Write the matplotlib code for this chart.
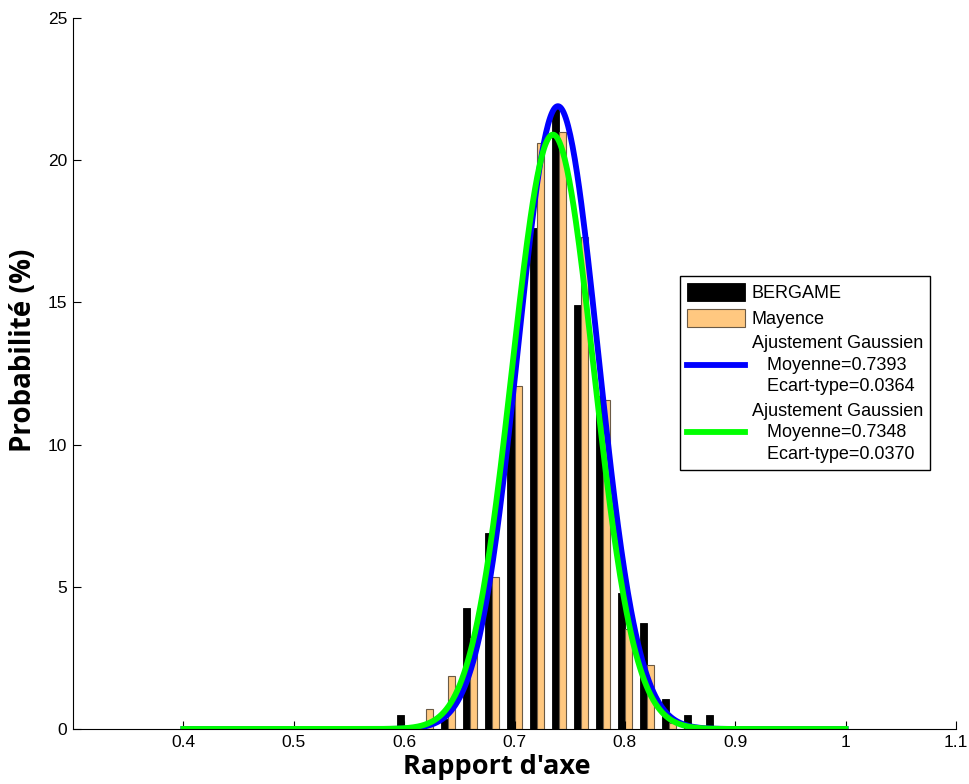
import numpy as np
import matplotlib
matplotlib.use("Agg")
import matplotlib.pyplot as plt
from matplotlib.ticker import FuncFormatter

# Bin centres and probabilities (%)
bins = [0.60, 0.62, 0.64, 0.66, 0.68, 0.70, 0.72, 0.74, 0.76, 0.78, 0.80, 0.82, 0.84, 0.86, 0.88]
bergame = [0.5, 0.0, 0.35, 4.25, 6.9, 12.0, 17.6, 21.8, 14.9, 11.7, 4.78, 3.73, 1.05, 0.5, 0.5]
mayence = [0.0, 0.7, 1.86, 3.2, 5.35, 12.06, 20.6, 21.0, 17.3, 11.57, 3.5, 2.25, 0.2, 0.0, 0.0]

# Gaussian fits (mean, std, peak amplitude)
fit_bergame = (0.7393, 0.0364, 21.9)
fit_mayence = (0.7348, 0.0370, 20.9)

xticks = [0.4, 0.5, 0.6, 0.7, 0.8, 0.9, 1.0, 1.1]
yticks = [0, 5, 10, 15, 20, 25]

plt.rcParams['font.family'] = ['Liberation Sans', 'DejaVu Sans']

fig = plt.figure(figsize=(9.69, 7.84), dpi=100)
ax = fig.add_axes([73/969, 55/784, 883/969, 711/784])

w = 0.0064
b = np.array(bins)
h1 = ax.bar(b - w/2, bergame, width=w, color='black', edgecolor='black', linewidth=0.6, label='BERGAME')
h2 = ax.bar(b + w/2, mayence, width=w, color='#FFC880', edgecolor='#6b5a45', linewidth=0.8, label='Mayence')

xs = np.linspace(0.4, 1.0, 600)
m, s, a = fit_bergame
l1, = ax.plot(xs, a*np.exp(-(xs-m)**2/(2*s**2)), color='#0000FF', lw=4.2,
              label='Ajustement Gaussien\n   Moyenne=%.4f\n   Ecart-type=%.4f' % (m, s))
m, s, a = fit_mayence
l2, = ax.plot(xs, a*np.exp(-(xs-m)**2/(2*s**2)), color='#00FF00', lw=4.2,
              label='Ajustement Gaussien\n   Moyenne=%.4f\n   Ecart-type=%.4f' % (m, s))

ax.set_xlim(0.3, 1.1)
ax.set_ylim(0, 25)
ax.set_xticks(xticks)
ax.set_yticks(yticks)
ax.xaxis.set_major_formatter(FuncFormatter(lambda v, p: '%g' % v))
ax.tick_params(direction='in', length=6, labelsize=12.5, width=0.8, pad=4)
ax.spines['top'].set_visible(False)
ax.spines['right'].set_visible(False)

ax.set_xlabel("Rapport d'axe", fontsize=19.5, fontweight='bold', family='Open Sans')
ax.set_ylabel("Probabilité (%)", fontsize=20, fontweight='bold', family='Open Sans')
ax.xaxis.set_label_coords(0.480, -0.054, transform=ax.transAxes)
ax.yaxis.set_label_coords(-0.0555, 0.532, transform=ax.transAxes)
ax.xaxis.label.set_va('center')
ax.yaxis.label.set_va('center')

leg = ax.legend(handles=[h1, h2, l1, l2], loc='upper left', bbox_to_anchor=(0.687, 0.637),
                borderaxespad=0, fancybox=False, edgecolor='black', framealpha=1, fontsize=13,
                handlelength=3.2, handleheight=1.1, labelspacing=0.4, handletextpad=0.4,
                borderpad=0.4)
leg.get_frame().set_linewidth(1.0)
for t in leg.get_texts():
    t.set_multialignment('left')
    t.set_linespacing(1.35)

fig.savefig('out.png', dpi=100)
